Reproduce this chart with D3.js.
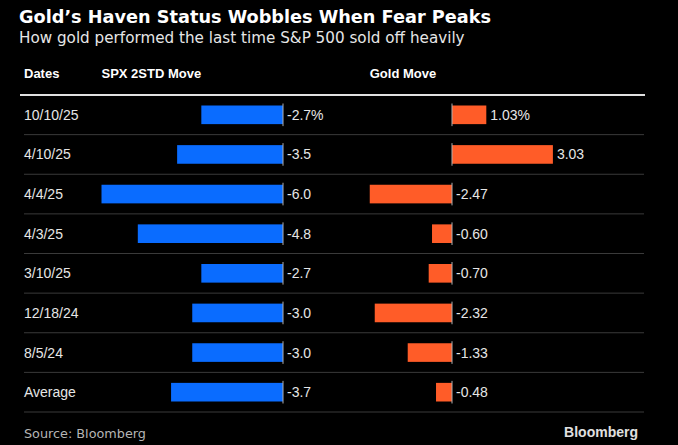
<!DOCTYPE html>
<html>
<head>
<meta charset="utf-8">
<script src="https://cdn.jsdelivr.net/npm/d3@7"></script>
<style>
  html, body { margin: 0; padding: 0; background: #000; }
  svg { display: block; }
  text { font-family: "Liberation Sans", Arial, sans-serif; }
  text.dv { font-family: "DejaVu Sans", sans-serif; }
</style>
</head>
<body>
<svg id="chart" width="678" height="445"></svg>
<script>
var dates = ['10/10/25', '4/10/25', '4/4/25', '4/3/25', '3/10/25', '12/18/24', '8/5/24', 'Average'];
var spxMove = [-2.7, -3.5, -6.0, -4.8, -2.7, -3.0, -3.0, -3.7];
var goldMove = [1.03, 3.03, -2.47, -0.60, -0.70, -2.32, -1.33, -0.48];
var spxLabels = ['-2.7%', '-3.5', '-6.0', '-4.8', '-2.7', '-3.0', '-3.0', '-3.7'];
var goldLabels = ['1.03%', '3.03', '-2.47', '-0.60', '-0.70', '-2.32', '-1.33', '-0.48'];

var svg = d3.select('#chart');
svg.append('rect').attr('width', 678).attr('height', 445).attr('fill', '#000');

// title block
svg.append('text')
    .attr('class', 'dv')
    .attr('x', 19).attr('y', 23)
    .attr('fill', '#fff')
    .attr('font-size', 17.7).attr('font-weight', 'bold')
    .text('Gold\u2019s Haven Status Wobbles When Fear Peaks');
svg.append('text')
    .attr('class', 'dv')
    .attr('x', 19).attr('y', 43)
    .attr('fill', '#e6e6e6')
    .attr('font-size', 15.2)
    .text('How gold performed the last time S&P 500 sold off heavily');

var y = d3.scaleBand()
    .domain(dates)
    .range([95, 412])
    .paddingInner(0.53)
    .paddingOuter(0.265);

var xSpx = d3.scaleLinear().domain([-6, 0]).range([101.5, 283]);
var xGold = d3.scaleLinear().domain([0, 1]).range([452, 485.3]);

// column headers
var headers = [
    {t: 'Dates', x: 24},
    {t: 'SPX 2STD Move', x: xSpx(-6)},
    {t: 'Gold Move', x: xGold(d3.min(goldMove))}
];
svg.selectAll('.hdr')
    .data(headers)
    .enter().append('text')
    .attr('class', 'hdr')
    .attr('x', (d) => d.x)
    .attr('y', 78)
    .attr('fill', '#fff')
    .attr('font-size', 13).attr('font-weight', 'bold')
    .text((d) => d.t);

svg.append('line')
    .attr('x1', 20).attr('x2', 645)
    .attr('y1', 95).attr('y2', 95)
    .attr('stroke', '#e0e0e0').attr('stroke-width', 2);

// row separators
var step = y.step();
svg.selectAll('.sep')
    .data(dates)
    .enter().append('line')
    .attr('class', 'sep')
    .attr('x1', 24).attr('x2', 644)
    .attr('y1', (d) => y(d) + y.bandwidth() / 2 + step / 2)
    .attr('y2', (d) => y(d) + y.bandwidth() / 2 + step / 2)
    .attr('stroke', '#3a3a3a').attr('stroke-width', 1);

var rows = dates.map((d, i) => ({date: d, spx: spxMove[i], gold: goldMove[i], sl: spxLabels[i], gl: goldLabels[i]}));

var g = svg.selectAll('.row')
    .data(rows)
    .enter().append('g')
    .attr('class', 'row')
    .attr('transform', (d) => 'translate(0,' + y(d.date) + ')');

var bh = y.bandwidth();

g.append('text')
    .attr('x', 24).attr('y', bh / 2 + 5)
    .attr('fill', '#e6e6e6')
    .attr('font-size', 14)
    .text((d) => d.date);

// SPX bars
g.append('rect')
    .attr('x', (d) => xSpx(d.spx))
    .attr('y', 0)
    .attr('width', (d) => xSpx(0) - xSpx(d.spx))
    .attr('height', bh)
    .attr('fill', '#0a6cff');
g.append('line')
    .attr('x1', xSpx(0)).attr('x2', xSpx(0))
    .attr('y1', -2).attr('y2', bh + 2)
    .attr('stroke', '#b0b0b0').attr('stroke-width', 1);
g.append('text')
    .attr('x', xSpx(0) + 4).attr('y', bh / 2 + 5)
    .attr('fill', '#e6e6e6')
    .attr('font-size', 14)
    .text((d) => d.sl);

// Gold bars
g.append('rect')
    .attr('x', (d) => Math.min(xGold(0), xGold(d.gold)))
    .attr('y', 0)
    .attr('width', (d) => Math.abs(xGold(d.gold) - xGold(0)))
    .attr('height', bh)
    .attr('fill', '#ff5c28');
g.append('line')
    .attr('x1', xGold(0)).attr('x2', xGold(0))
    .attr('y1', -2).attr('y2', bh + 2)
    .attr('stroke', '#b0b0b0').attr('stroke-width', 1);
g.append('text')
    .attr('x', (d) => (d.gold > 0 ? xGold(d.gold) : xGold(0)) + 4)
    .attr('y', bh / 2 + 5)
    .attr('fill', '#e6e6e6')
    .attr('font-size', 14)
    .text((d) => d.gl);

// footer
svg.append('text')
    .attr('class', 'dv')
    .attr('x', 24).attr('y', 438)
    .attr('fill', '#b5b5b5')
    .attr('font-size', 12.8)
    .text('Source: Bloomberg');
svg.append('text')
    .attr('x', 638).attr('y', 437)
    .attr('text-anchor', 'end')
    .attr('fill', '#e0e0e0')
    .attr('font-size', 14).attr('font-weight', 'bold')
    .text('Bloomberg');
</script>
</body>
</html>
